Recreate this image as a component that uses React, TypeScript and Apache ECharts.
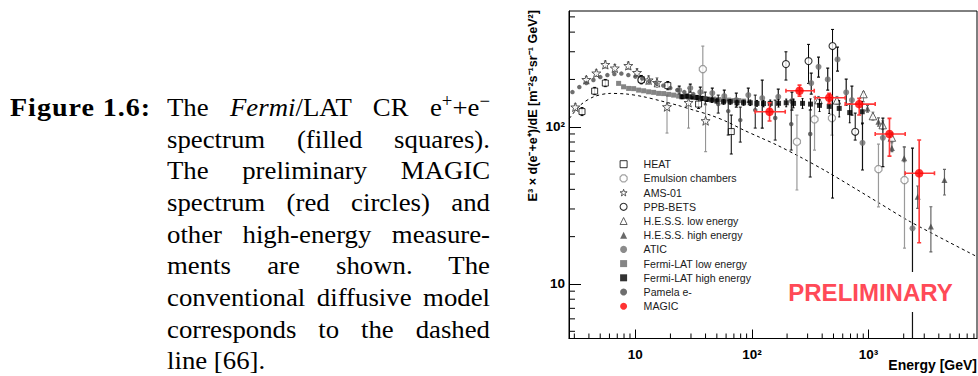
import React, { useEffect, useRef } from "react";
import * as echarts from "echarts";

// ---------- axes ----------
const X_MIN = 2.7;
const X_MAX = 8500;
const Y_MIN = 4.5;
const Y_MAX = 545;

const xTickValues = [10, 100, 1000];
const xTickLabels = ["10", "10²", "10³"];
const yTickValues = [10, 100];
const yTickLabels = ["10", "10²"];
const xMinorTicks = [3, 4, 5, 6, 7, 8, 9, 20, 30, 40, 50, 60, 70, 80, 90, 200, 300, 400, 500, 600, 700, 800, 900, 2000, 3000, 4000, 5000, 6000, 7000, 8000];
const yMinorTicks = [5, 6, 7, 8, 9, 20, 30, 40, 50, 60, 70, 80, 90, 200, 300, 400, 500];

const xTitle = "Energy [GeV]";
const yTitle = "E³ × d(e⁻+e⁺)/dE [m⁻²s⁻¹sr⁻¹ GeV²]";
const stamp = "PRELIMINARY";

// ---------- data: [E (GeV), E^3 flux, low, high] ----------
const heatData = [
  [3.49, 124.9, 117.8, 132.5],
  [4.48, 168.6, 160, 178],
  [5.53, 189.6, 180, 200],
  [11.26, 199.5, 188, 212],
  [18.99, 182.8, 172, 194],
  [34.86, 139.4, 130.9, 151.5],
  [66.47, 93.2, 67.1, 118.7],
];
const emulsionData = [
  [37.9, 232.7, 163.8, 326.1],
  [243, 80.3, 39.6, 118.7],
  [343.9, 111.4, 71.1, 154.5],
  [484.7, 113.6, 88.6, 147.8],
  [1215, 53.8, 30.9, 77.6],
  [2031, 45.8, 16.9, 74.3],
];
const amsData = [
  [3.06, 133.4, 127, 140],
  [3.8, 199.5, 190, 209],
  [4.63, 219.4, 209, 230],
  [5.53, 248.6, 236, 262],
  [6.67, 236.1, 224, 249],
  [8.71, 244.9, 232, 258],
  [10.34, 221.1, 209, 234],
  [13.0, 198.2, 186, 211],
  [15.34, 191.0, 178, 205],
  [18.69, 134.0, 91.2, 159.0],
  [28.6, 142.5, 98.1, 176.2],
  [40.05, 109.2, 69.4, 137.4],
];
const ppbData = [
  [11.26, 198.2, 188, 209],
  [195.6, 250.4, 198.2, 299.8],
  [305.5, 261.6, 188.8, 334.2],
  [490.7, 326.1, 35.2, 416.1],
  [767.7, 92.9, 82.3, 122.2],
];
const hessLowData = [
  [372.2, 147.8, 140, 156],
  [535.1, 147.2, 139, 156],
  [904.2, 161.4, 144.1, 166.9],
  [1089, 117.0, 110, 124],
  [1321, 102.5, 96, 109],
  [1583, 85.4, 79, 92],
];
const hessHighData = [
  [978.6, 130.5, 124, 137],
  [1215, 107.6, 101, 114],
  [1584, 73.2, 69.4, 80.3],
  [2019, 63.0, 59.9, 74.6],
  [2635, 35.9, 30.3, 42.0],
  [3420, 23.2, 16.0, 31.0],
  [4472, 45.8, 36.8, 53.6],
];
const aticData = [
  [23.8, 171.1, 161.4, 181.5],
  [29.6, 176.2, 166.2, 186.8],
  [36.06, 166.2, 154.5, 178.8],
  [45.7, 163.8, 150.0, 176.2],
  [57.9, 156.7, 143.6, 171.1],
  [73.4, 147.8, 133.4, 163.8],
  [93.0, 159.0, 143.6, 176.2],
  [122.5, 152.2, 98.1, 198.2],
  [168.1, 155.1, 139.4, 173.6],
  [220.2, 145.6, 127.7, 166.2],
  [322.3, 189.6, 161.4, 219.4],
  [372.2, 240.7, 207.0, 277.4],
  [446.2, 200.1, 171.1, 236.1],
  [541.5, 268.2, 226.0, 321.2],
  [642.7, 165.5, 137.4, 201.0],
  [719.3, 147.8, 118.7, 181.5],
  [886.5, 79.1, 53.1, 105.6],
  [1326, 85.1, 55.7, 113.6],
  [2378, 22.6, 3.0, 73.2],
];
const fermiLowData = [
  [7.19, 188.8], [7.93, 179.6], [8.76, 175.4], [9.67, 174.8], [10.67, 171.1],
  [11.78, 169.4], [13.0, 166.9], [14.35, 165.5], [15.84, 163.1], [17.48, 162.6],
  [19.3, 160.7], [21.3, 159.0], [23.5, 156.7], [25.96, 155.6], [28.65, 154.5],
  [31.6, 153.3], [34.9, 152.2], [38.5, 151.1], [42.5, 150.0], [46.9, 150.0],
  [51.8, 148.9], [57.2, 147.8], [63.1, 147.8], [69.7, 146.7], [76.9, 146.7], [84.9, 145.6],
];
const fermiHighData = [
  [25.1, 155.1, 151, 159], [27.7, 156.7, 152.5, 161], [30.6, 155.1, 151, 159], [33.8, 153.8, 149.5, 158],
  [37.3, 151.5, 147, 156], [41.2, 149.3, 145, 154], [45.4, 147.8, 143, 152.5], [50.1, 145.6, 141, 150.5],
  [57.1, 144.1, 139, 149], [65.2, 144.1, 139, 149], [74.4, 142.1, 137, 147.5], [84.7, 142.1, 137, 147.5],
  [96.7, 142.1, 136.5, 148], [110.4, 140.9, 135, 147], [125.7, 140.5, 134, 147], [143.5, 140.9, 134, 148],
  [169.0, 140.9, 133.5, 148.5], [196.7, 142.1, 134, 150], [227.3, 140.9, 132, 150], [271.4, 140.9, 131, 151],
  [317.8, 139.4, 128.5, 150.5], [379.6, 136.8, 125, 149], [459.6, 134.8, 121.5, 148.5], [560.0, 130.9, 115.5, 146.5],
  [688.8, 123.1, 106, 140.5], [881.6, 124.6, 104, 145],
];
const pamelaData = [
  [2.89, 166.2], [3.31, 178.8], [3.8, 189.6], [4.37, 198.2], [5.01, 207.0], [5.76, 213.2],
  [6.61, 216.3], [7.59, 217.9], [8.71, 213.2], [10.0, 208.5], [11.48, 202.5], [13.18, 195.2],
  [15.13, 189.6], [17.37, 182.8], [19.95, 176.2], [22.9, 171.1], [26.3, 166.2], [31.4, 161.4],
  [39.8, 152.2, 139.4, 166.2],
  [51.4, 139.4, 122.2, 159.0],
  [62.6, 125.8, 88.6, 147.8],
  [79.4, 110.3, 79.9, 133.4],
  [106.7, 127.7, 98.1, 159.0],
  [158.3, 113.6, 82.3, 147.8],
  [217.2, 104.0, 71.1, 147.8],
  [315.9, 89.9, 47.9, 127.7],
];
// MAGIC: [E, F, E low, E high, F low, F high]
const magicData = [
  [141.5, 124.6, 106.7, 192.9, 108.7, 142.1],
  [255.8, 169.4, 195.6, 341.9, 156.7, 184.1],
  [459.6, 152.9, 348.6, 630.2, 140.9, 163.1],
  [830.7, 139.4, 630.2, 1139, 118.7, 151.5],
  [1510, 89.9, 1139, 2059, 65.1, 113.1],
  [2714, 50.6, 2059, 3671, 18.3, 82.3],
];
// conventional diffusive model (dashed)
const modelData = [
  [2.72, 112.8], [3.38, 137.4], [4.4, 155.2], [6.11, 163.0], [8.49, 161.4], [11.78, 155.2],
  [16.4, 146.3], [22.8, 137.3], [31.6, 127.6], [44.0, 118.6], [61.1, 107.6], [84.8, 95.3],
  [117.9, 85.4], [163.7, 76.5], [259.3, 64.2], [439, 51.8], [1178, 33.4], [2275, 24.9], [8530, 14.9],
];

const FONT = '"Liberation Sans", Arial, Helvetica, sans-serif';
const SERIF = '"Liberation Serif", "Times New Roman", serif';
const STAR = "path://M0,-10L2.35,-3.24L9.51,-3.09L3.8,1.24L5.88,8.09L0,4.1L-5.88,8.09L-3.8,1.24L-9.51,-3.09L-2.35,-3.24Z";
const OCT = "path://M-4,-10L4,-10L10,-4L10,4L4,10L-4,10L-10,4L-10,-4Z";

const labelFor = (values: number[], labels: string[]) => (v: number) => {
  const i = values.findIndex((t) => Math.abs(Math.log10(t) - Math.log10(v)) < 1e-6);
  return i >= 0 ? labels[i] : "";
};

const vErr = (color: string, cap: number, width: number) => (_p: any, api: any) => {
  const x = api.value(0);
  const a = api.coord([x, api.value(2)]);
  const b = api.coord([x, api.value(3)]);
  const st = { stroke: color, lineWidth: width };
  return {
    type: "group",
    children: [
      { type: "line", shape: { x1: a[0], y1: a[1], x2: b[0], y2: b[1] }, style: st },
      { type: "line", shape: { x1: a[0] - cap, y1: a[1], x2: a[0] + cap, y2: a[1] }, style: st },
      { type: "line", shape: { x1: b[0] - cap, y1: b[1], x2: b[0] + cap, y2: b[1] }, style: st },
    ],
  };
};

const xyErr = (color: string, cap: number, width: number) => (_p: any, api: any) => {
  const x = api.value(0);
  const y = api.value(1);
  const l = api.coord([api.value(2), y]);
  const r = api.coord([api.value(3), y]);
  const lo = api.coord([x, api.value(4)]);
  const hi = api.coord([x, api.value(5)]);
  const st = { stroke: color, lineWidth: width };
  return {
    type: "group",
    children: [
      { type: "line", shape: { x1: l[0], y1: l[1], x2: r[0], y2: r[1] }, style: st },
      { type: "line", shape: { x1: lo[0], y1: lo[1], x2: hi[0], y2: hi[1] }, style: st },
      { type: "line", shape: { x1: l[0], y1: l[1] - cap, x2: l[0], y2: l[1] + cap }, style: st },
      { type: "line", shape: { x1: r[0], y1: r[1] - cap, x2: r[0], y2: r[1] + cap }, style: st },
      { type: "line", shape: { x1: lo[0] - cap, y1: lo[1], x2: lo[0] + cap, y2: lo[1] }, style: st },
      { type: "line", shape: { x1: hi[0] - cap, y1: hi[1], x2: hi[0] + cap, y2: hi[1] }, style: st },
    ],
  };
};

const errSeries = (data: number[][], render: any, z: number) => ({
  type: "custom",
  coordinateSystem: "cartesian2d",
  renderItem: render,
  data: data.filter((d) => d.length >= 4),
  encode: { x: 0, y: 1 },
  clip: true,
  silent: true,
  z,
});

const markSeries = (name: string, data: number[][], symbol: string, size: number, itemStyle: any, z: number) => ({
  type: "scatter",
  name,
  data: data.map((d) => [d[0], d[1]]),
  symbol,
  symbolSize: size,
  itemStyle,
  clip: true,
  silent: true,
  z,
});

const tickSeries = (values: number[], horizontal: boolean, len: number) => ({
  type: "custom",
  coordinateSystem: "cartesian2d",
  data: values.map((v) => (horizontal ? [v, Y_MIN] : [X_MIN, v])),
  encode: { x: 0, y: 1 },
  silent: true,
  z: 50,
  renderItem: (_p: any, api: any) => {
    const p = api.coord([api.value(0), api.value(1)]);
    return horizontal
      ? { type: "line", shape: { x1: p[0], y1: p[1], x2: p[0], y2: p[1] - len }, style: { stroke: "#000", lineWidth: 1 } }
      : { type: "line", shape: { x1: p[0], y1: p[1], x2: p[0] + len, y2: p[1] }, style: { stroke: "#000", lineWidth: 1 } };
  },
});

const heatStyle = { color: "#fff", borderColor: "#000", borderWidth: 1 };
const emulsionStyle = { color: "#fff", borderColor: "#8a8a8a", borderWidth: 1.2 };
const amsStyle = { color: "#fff", borderColor: "#333", borderWidth: 1 };
const ppbStyle = { color: "#fff", borderColor: "#000", borderWidth: 1.1 };
const hessLowStyle = { color: "#fff", borderColor: "#3a3a3a", borderWidth: 1 };

function Chart() {
  const ref = useRef<HTMLDivElement>(null);
  useEffect(() => {
    if (!ref.current) return;
    const chart = echarts.init(ref.current, null, { renderer: "svg" });
    const option: any = {
      animation: false,
      backgroundColor: "transparent",
      grid: { left: 569, right: 1, top: 11, bottom: 37.5, show: true, borderColor: "#000", borderWidth: 1, backgroundColor: "transparent" },
      legend: {
        orient: "vertical",
        left: 619.5,
        top: 158.2,
        padding: 0,
        itemWidth: 7,
        itemHeight: 7,
        itemGap: 2.2,
        selectedMode: false,
        textStyle: { fontFamily: FONT, fontSize: 10.6, color: "#1a1a1a", lineHeight: 12, padding: [0, 0, 0, 11.5] },
        data: [
          { name: "HEAT", itemStyle: heatStyle },
          { name: "Emulsion chambers", itemStyle: emulsionStyle },
          { name: "AMS-01", itemStyle: amsStyle },
          { name: "PPB-BETS", itemStyle: ppbStyle },
          { name: "H.E.S.S. low energy", itemStyle: hessLowStyle },
          { name: "H.E.S.S. high energy" },
          { name: "ATIC" },
          { name: "Fermi-LAT low energy" },
          { name: "Fermi-LAT high energy" },
          { name: "Pamela e-" },
          { name: "MAGIC" },
        ],
      },
      xAxis: {
        type: "log",
        logBase: 10,
        min: X_MIN,
        max: X_MAX,
        splitNumber: 3,
        axisLine: { show: true, lineStyle: { color: "#000", width: 1 } },
        axisTick: { show: true, inside: true, length: 9, lineStyle: { color: "#000", width: 1 } },
        minorTick: { show: false },
        splitLine: { show: false },
        axisLabel: {
          show: true, margin: 9, color: "#000", fontFamily: FONT, fontWeight: "bold", fontSize: 13.5,
          showMinLabel: false, showMaxLabel: false, formatter: labelFor(xTickValues, xTickLabels),
        },
      },
      yAxis: {
        type: "log",
        logBase: 10,
        min: Y_MIN,
        max: Y_MAX,
        splitNumber: 2,
        axisLine: { show: true, lineStyle: { color: "#000", width: 1 } },
        axisTick: { show: true, inside: true, length: 12, lineStyle: { color: "#000", width: 1 } },
        minorTick: { show: false },
        splitLine: { show: false },
        axisLabel: {
          show: true, margin: 4, color: "#000", fontFamily: FONT, fontWeight: "bold", fontSize: 13.5,
          showMinLabel: false, showMaxLabel: false, formatter: labelFor(yTickValues, yTickLabels),
        },
      },
      graphic: [
        {
          type: "text", x: 532.5, y: 10, rotation: Math.PI / 2, z: 100,
          style: { text: yTitle, fontFamily: FONT, fontWeight: "bold", fontSize: 12.6, fill: "#000", align: "right", verticalAlign: "middle", textAlign: "right", textVerticalAlign: "middle" },
        },
        {
          type: "text", x: 977, y: 365, z: 100,
          style: { text: xTitle, fontFamily: FONT, fontWeight: "bold", fontSize: 14, fill: "#000", align: "right", verticalAlign: "middle", textAlign: "right", textVerticalAlign: "middle" },
        },
        {
          type: "text", x: 870.5, y: 292, z: 100,
          style: {
            text: stamp, fontFamily: FONT, fontWeight: "bold", fontSize: 24, fill: "#ff4a57",
            align: "center", verticalAlign: "middle", textAlign: "center", textVerticalAlign: "middle",
            backgroundColor: "#fff", padding: [8, 6],
          },
        },
      ],
      series: [
        {
          type: "line", data: modelData, showSymbol: false, symbol: "none", smooth: 0.3, silent: true, z: 5,
          lineStyle: { color: "#000", width: 1, type: [3, 3] },
        },
        errSeries(heatData, vErr("#000", 1.5, 1), 10),
        markSeries("HEAT", heatData, "rect", 6, heatStyle, 11),
        errSeries(emulsionData, vErr("#9a9a9a", 1.5, 1.2), 12),
        markSeries("Emulsion chambers", emulsionData, OCT, 7, emulsionStyle, 13),
        errSeries(amsData, vErr("#8a8a8a", 1.5, 1), 14),
        markSeries("AMS-01", amsData, STAR, 9, amsStyle, 15),
        errSeries(ppbData, vErr("#000", 1.5, 1), 16),
        markSeries("PPB-BETS", ppbData, "circle", 7, ppbStyle, 17),
        errSeries(hessLowData, vErr("#888", 1.5, 1), 18),
        markSeries("H.E.S.S. low energy", hessLowData, "triangle", 7.5, hessLowStyle, 19),
        errSeries(hessHighData, vErr("#666", 1.5, 1.2), 20),
        markSeries("H.E.S.S. high energy", hessHighData, "triangle", 6, { color: "#444" }, 21),
        errSeries(aticData, vErr("#111", 1.5, 1.2), 22),
        markSeries("ATIC", aticData, "circle", 6, { color: "#6e6e6e" }, 23),
        markSeries("Fermi-LAT low energy", fermiLowData, "rect", 5, { color: "#666" }, 24),
        errSeries(fermiHighData, vErr("#000", 1, 1), 25),
        markSeries("Fermi-LAT high energy", fermiHighData, "rect", 5, { color: "#000" }, 26),
        errSeries(pamelaData, vErr("#111", 1.5, 1), 27),
        markSeries("Pamela e-", pamelaData, "circle", 4.5, { color: "#4a4a4a" }, 28),
        errSeries(magicData, xyErr("#ff3838", 2, 1.6), 29),
        markSeries("MAGIC", magicData, "circle", 8.5, { color: "#ff0000" }, 30),
        tickSeries(xMinorTicks, true, 5),
        tickSeries(yMinorTicks, false, 6),
      ],
    };
    chart.setOption(option);
    return () => chart.dispose();
  }, []);
  return <div ref={ref} style={{ position: "absolute", left: 0, top: 0, width: 978, height: 376 }} />;
}

const sup: React.CSSProperties = { fontSize: "0.7em", position: "relative", top: "-0.5em", lineHeight: 0 };
const STRETCH = 1.05;

export default function App() {
  const lineStyle: React.CSSProperties = { height: 31.66, lineHeight: "31.66px", textAlign: "justify", textAlignLast: "justify" };
  return (
    <div style={{ position: "fixed", left: 0, top: 0, width: 978, height: 376, overflow: "hidden", background: "#fff" }}>
      <Chart />
      <div style={{ position: "absolute", left: 10, top: 92, fontFamily: SERIF, fontSize: 26, lineHeight: "31.66px", fontWeight: "bold", letterSpacing: 0.9, color: "#000", zIndex: 2, transform: "scaleX(1.08)", transformOrigin: "0 0", whiteSpace: "nowrap" }}>
        Figure 1.6:
      </div>
      <div style={{ position: "absolute", left: 167, top: 92, width: 323 / STRETCH, fontFamily: SERIF, fontSize: 25.5, color: "#000", zIndex: 2, transform: `scaleX(${STRETCH})`, transformOrigin: "0 0" }}>
        <div style={lineStyle}>
          The <i>Fermi</i>/LAT CR e<span style={sup}>+</span>+e<span style={sup}>−</span>
        </div>
        <div style={lineStyle}>spectrum (filled squares).</div>
        <div style={lineStyle}>The preliminary MAGIC</div>
        <div style={lineStyle}>spectrum (red circles) and</div>
        <div style={lineStyle}>other high-energy measure-</div>
        <div style={lineStyle}>ments are shown. The</div>
        <div style={lineStyle}>conventional diffusive model</div>
        <div style={lineStyle}>corresponds to the dashed</div>
        <div style={{ height: 31.66, lineHeight: "31.66px", textAlign: "left" }}>line [66].</div>
      </div>
    </div>
  );
}
